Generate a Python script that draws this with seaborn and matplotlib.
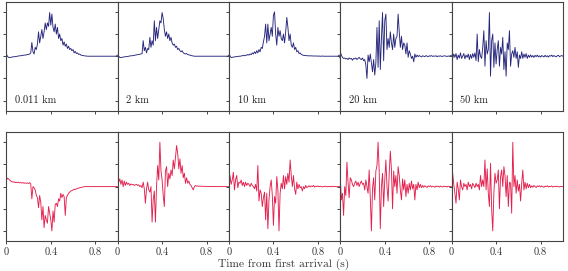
import numpy as np
import matplotlib
matplotlib.use("Agg")
import matplotlib.pyplot as plt
import seaborn as sns

sns.set_theme(style="ticks")
plt.rcParams['font.family'] = ['cmr10', 'DejaVu Serif']
plt.rcParams['axes.formatter.use_mathtext'] = True

# distances shown in the top row
distances = ['0.011 km', '2 km', '10 km', '20 km', '50 km']

# sample times (s), 101 samples
time = np.linspace(0, 1.0, 101)

# top row traces (navy)
top_0011 = [0.12, 0.0, -0.05, -0.06, -0.05, -0.04, -0.03, -0.02, -0.02, -0.01,
            0.0, 0.01, 0.02, 0.02, 0.03, 0.04, 0.05, 0.05, 0.06, 0.08,
            0.08, 0.1, 0.15, 0.62, 0.2, 0.1, 0.4, 0.3, 0.55, 1.1,
            0.6, 0.9, 1.2, 0.8, 1.1, 1.5, 1.2, 1.5, 1.35, 1.97,
            1.4, 1.9, 1.3, 1.1, 1.45, 1.0, 1.3, 0.8, 1.0, 0.7,
            0.8, 0.5, 0.65, 0.45, 0.55, 0.35, 0.45, 0.3, 0.35, 0.25,
            0.3, 0.15, 0.22, 0.12, 0.15, 0.08, 0.1, 0.05, 0.04, 0.03,
            0.02, 0.01, 0.01, 0.0, 0.0, 0.0, 0.0, 0.0, 0.0, 0.0,
            0.0, 0.0, 0.0, 0.0, 0.0, 0.0, 0.0, 0.0, 0.0, 0.0,
            0.0, 0.0, 0.0, 0.0, 0.0, 0.0, 0.0, 0.0, 0.0, 0.01, 0.05]
top_2 = [0.15, 0.0, -0.05, -0.06, -0.05, -0.04, -0.03, -0.02, -0.02, -0.01,
         0.0, 0.01, 0.02, 0.02, 0.03, 0.04, 0.05, 0.06, 0.07, 0.08,
         0.09, 0.1, 0.12, 0.7, 0.25, 0.4, 0.15, 0.35, 0.3, 0.85,
         0.4, 0.7, 0.5, 1.6, 0.7, 1.3, 0.8, 1.2, 1.6, 1.5,
         1.97, 1.7, 1.2, 0.9, 1.1, 0.8, 1.0, 0.7, 0.85, 0.6,
         0.5, 0.55, 0.4, 0.45, 0.3, 0.35, 0.25, 0.2, 0.25, 0.15,
         0.12, 0.1, 0.12, 0.08, 0.06, 0.05, 0.03, 0.02, 0.01, 0.0,
         0.0, 0.0, 0.0, 0.0, 0.0, 0.0, 0.0, 0.0, 0.0, 0.0,
         0.0, 0.0, 0.0, 0.0, 0.0, 0.0, 0.0, 0.0, 0.0, 0.0,
         0.0, 0.0, 0.0, 0.0, 0.0, 0.0, 0.0, 0.0, 0.0, 0.0, 0.05]
top_10 = [0.2, 0.0, -0.06, -0.05, -0.04, -0.03, -0.02, -0.02, -0.01, 0.0,
          0.0, 0.01, 0.02, 0.04, 0.02, 0.05, 0.04, 0.08, 0.05, 0.1,
          0.07, 0.15, 0.1, 0.2, 0.12, 0.25, 0.15, 0.3, 0.2, 0.4,
          0.35, 0.65, 0.9, 1.45, 0.6, 1.45, 0.7, 1.0, 1.3, 0.9,
          1.85, 2.0, 1.0, 0.5, 1.3, 0.9, 1.15, 0.8, 0.7, 1.0,
          0.6, 1.1, 1.75, 1.3, 0.7, 1.0, 0.5, 0.4, 0.6, 0.3,
          0.4, 0.2, 0.25, 0.12, 0.15, 0.08, 0.06, 0.04, 0.03, 0.03,
          0.02, 0.02, 0.02, 0.01, 0.02, 0.01, 0.01, 0.01, 0.01, 0.01,
          0.0, 0.01, 0.0, 0.0, 0.01, 0.0, 0.0, 0.0, 0.0, 0.0,
          0.0, 0.0, 0.0, 0.0, 0.0, 0.0, 0.0, 0.0, 0.0, 0.05, -0.1]
top_20 = [0.2, 0.05, -0.05, -0.1, -0.08, -0.12, -0.1, -0.15, -0.08, -0.12,
          -0.1, -0.18, -0.1, -0.12, -0.08, -0.15, -0.1, -0.05, -0.12, -0.15,
          -0.08, -0.2, -0.15, -0.4, -1.0, 0.05, -0.25, 0.1, -0.3, -0.7,
          -0.15, -0.85, -0.3, 1.3, -0.5, 1.6, -0.6, 0.8, 1.97, -0.2,
          1.6, 1.9, 0.3, 0.8, 0.4, 1.1, 0.6, 0.3, 1.0, 0.4,
          0.8, 0.9, 1.9, 1.1, 0.4, 0.9, 0.3, 0.6, 0.5, 0.1,
          0.6, -0.05, 0.25, 0.1, -0.1, 0.0, -0.25, 0.1, -0.05, 0.05,
          -0.02, 0.03, 0.0, -0.03, 0.02, 0.0, -0.02, 0.03, 0.0, -0.02,
          0.02, 0.0, 0.03, -0.01, 0.01, 0.0, 0.02, -0.02, 0.01, 0.0,
          0.02, -0.01, 0.0, 0.01, 0.02, 0.0, -0.01, 0.01, 0.0, 0.02, 0.05]
top_50 = [0.05, -0.1, 0.1, -0.05, 0.12, -0.15, 0.05, -0.08, 0.15, -0.1,
          0.0, 0.12, -0.12, 0.05, -0.05, 0.1, -0.15, 0.08, -0.1, 0.12,
          -0.05, 0.15, -0.2, 1.0, -0.25, 0.3, 0.0, -0.1, 0.4, 1.15,
          -0.45, 0.7, 0.1, 0.3, 1.97, -0.9, 0.7, 1.0, -0.5, 0.6,
          -0.35, 0.3, 0.7, -0.45, 0.4, 0.1, 0.85, -0.6, 0.2, -0.9,
          0.6, 0.3, 1.15, -0.45, 0.1, 0.25, -0.05, 0.4, -0.1, 0.2,
          -0.5, 0.05, -0.1, 0.2, -0.1, 0.1, -0.05, 0.12, -0.1, 0.05,
          -0.05, 0.06, -0.04, 0.03, -0.05, 0.04, -0.02, 0.05, -0.03, 0.02,
          -0.04, 0.03, 0.0, -0.03, 0.04, -0.02, 0.02, -0.04, 0.03, 0.0,
          0.05, -0.02, 0.03, 0.0, -0.03, 0.02, 0.04, -0.02, 0.01, 0.03, 0.0]

# bottom row traces (red)
bot_0011 = [0.25, 0.38, 0.35, 0.3, 0.25, 0.22, 0.2, 0.22, 0.18, 0.2,
            0.18, 0.2, 0.17, 0.18, 0.16, 0.18, 0.15, 0.17, 0.15, 0.16,
            0.14, 0.18, 0.12, -0.55, 0.0, -0.05, -0.15, -0.4, -0.5, -0.95,
            -0.4, -0.7, -1.5, -0.9, -1.85, -1.3, -1.5, -1.65, -0.9, -1.2,
            -1.5, -2.0, -1.1, -1.6, -0.8, -0.75, -0.9, -0.55, -0.65, -0.3,
            -0.5, -0.35, -0.45, -1.3, -0.5, -0.4, -0.3, -0.25, -0.2, -0.18,
            -0.15, -0.12, -0.13, -0.1, -0.08, -0.07, -0.05, -0.04, -0.03, -0.02,
            0.0, 0.0, 0.0, 0.0, 0.0, 0.0, 0.0, 0.0, 0.0, 0.0,
            0.0, 0.0, 0.0, 0.0, 0.0, 0.0, 0.0, 0.0, 0.0, 0.0,
            0.0, 0.0, 0.0, 0.0, 0.0, 0.0, 0.0, 0.0, 0.0, 0.0, 0.0]
bot_2 = [0.45, 0.2, 0.35, 0.1, 0.3, 0.0, 0.25, 0.05, 0.2, 0.1,
         0.15, 0.05, 0.12, 0.08, 0.1, 0.05, 0.08, 0.1, 0.05, 0.08,
         0.0, 0.05, -0.05, 0.2, -0.1, -0.75, -0.1, 0.2, -0.15, -0.25,
         0.0, -1.6, -0.6, -0.2, -1.6, 0.0, 0.95, 0.3, 2.0, 0.7,
         0.3, -0.4, -0.9, 0.7, 0.9, 0.0, 0.6, 0.35, 0.75, 0.5,
         1.2, 0.8, 1.3, 1.85, 1.5, 0.8, 1.25, 0.6, 0.95, 0.4,
         0.6, 0.15, 0.4, 0.15, 0.25, 0.1, 0.05, -0.05, -0.15, 0.0,
         0.05, 0.02, 0.03, 0.01, 0.02, 0.01, 0.02, 0.01, 0.01, 0.01,
         0.01, 0.0, 0.01, 0.0, 0.01, 0.0, 0.0, 0.01, 0.0, 0.0,
         0.0, 0.01, 0.0, 0.0, 0.0, 0.0, 0.0, 0.0, 0.0, 0.0, 0.0]
bot_10 = [-0.3, 0.5, 0.1, 0.3, 0.65, -0.15, 0.3, 0.5, -0.05, 0.2,
          0.15, 0.3, 0.05, 0.2, 0.0, 0.2, 0.05, 0.15, 0.1, 0.0,
          0.15, 0.05, 0.0, -0.1, 0.1, -0.2, 0.95, -0.65, -0.15, -0.3,
          -0.9, -0.5, -0.25, -1.5, -0.3, -1.9, -0.6, 0.0, 0.3, -0.4,
          -1.75, -0.45, -0.75, 0.45, -0.15, -2.0, -0.3, 0.15, -0.1, 0.5,
          -0.1, 0.45, 0.1, 0.6, 0.2, 1.2, 0.5, 0.0, 0.5, -0.1,
          -0.35, 0.2, -0.1, 0.1, -0.05, 0.0, -0.2, 0.0, -0.1, 0.05,
          -0.05, 0.0, 0.04, -0.02, 0.03, 0.0, 0.05, -0.02, 0.02, 0.0,
          0.03, -0.01, 0.02, 0.0, -0.02, 0.01, 0.0, 0.02, -0.01, 0.0,
          0.01, 0.0, -0.01, 0.02, 0.0, 0.0, 0.01, -0.01, 0.0, 0.0, 0.0]
bot_20 = [0.45, -0.6, -0.3, -1.3, 0.0, -0.4, 1.1, 0.2, -0.5, 0.4,
          0.3, 0.1, 0.0, 0.15, 0.25, 0.05, 0.2, 0.0, 0.15, 0.25,
          0.1, 0.15, -0.15, 0.3, 0.0, -0.3, 0.75, -0.5, -2.0, -0.1,
          0.4, -0.6, 0.7, 0.95, 2.0, 0.7, -1.9, 0.0, 0.6, -0.9,
          0.3, 1.2, 0.0, -0.65, 0.6, 1.6, 0.75, -1.0, 0.7, 0.0,
          0.5, -0.3, 0.9, 0.5, -0.15, -0.6, 0.35, -0.15, 0.3, -0.45,
          0.1, -0.3, 0.15, -0.15, 0.25, -0.1, 0.1, -0.6, 0.1, -0.15,
          0.2, -0.05, 0.1, -0.05, 0.05, -0.03, 0.04, 0.0, -0.04, 0.03,
          0.0, 0.04, -0.02, 0.02, 0.0, -0.03, 0.03, 0.0, 0.02, -0.02,
          0.03, 0.0, -0.02, 0.02, 0.0, 0.01, -0.02, 0.02, 0.0, 0.0, 0.0]
bot_50 = [-0.5, 0.6, 0.1, -0.3, -0.75, 0.2, -0.1, -0.6, 0.3, 0.0,
          -0.15, 0.15, 0.0, 0.1, -0.15, 0.2, 0.0, 0.1, -0.1, 0.15,
          0.05, -0.05, 0.15, 0.0, 0.1, -0.15, 0.5, 0.0, 0.3, 0.0,
          1.2, -0.15, 0.8, -0.3, -0.9, 1.05, -1.0, -2.0, -0.3, 0.6,
          0.15, 0.3, 0.75, -1.0, 0.45, 0.75, 0.0, 0.9, 0.5, -0.45,
          0.5, -0.9, 0.2, 0.15, -1.2, 2.0, 0.0, 0.5, -0.3, 0.3,
          -0.2, 0.1, -0.65, 0.15, 0.75, -0.15, 0.2, -0.1, 0.15, -0.05,
          0.1, -0.05, 0.04, -0.03, 0.05, 0.0, -0.04, 0.03, 0.0, 0.04,
          -0.02, 0.03, 0.0, -0.03, 0.02, 0.0, 0.04, -0.02, 0.01, 0.0,
          0.03, -0.02, 0.0, 0.02, -0.01, 0.02, 0.0, -0.02, 0.01, 0.0, 0.0]

top_traces = [top_0011, top_2, top_10, top_20, top_50]
bot_traces = [bot_0011, bot_2, bot_10, bot_20, bot_50]

navy = '#26267c'
red = '#e3204e'

fig, axes = plt.subplots(2, 5, figsize=(5.68, 2.71), dpi=100, sharex=True, sharey=True)
fig.subplots_adjust(left=0.011, right=0.991, top=0.993, bottom=0.111, wspace=0, hspace=0.2)

for j in range(5):
    ax_t = axes[0, j]
    ax_b = axes[1, j]
    sns.lineplot(x=time, y=top_traces[j], ax=ax_t, color=navy, lw=0.65, estimator=None)
    sns.lineplot(x=time, y=bot_traces[j], ax=ax_b, color=red, lw=0.65, estimator=None)
    ax_t.text(0.08, 0.07, distances[j], transform=ax_t.transAxes, fontsize=7.5, color='#222222')

for ax in axes.flat:
    ax.set_xlim(0, 1.0)
    ax.set_ylim(-2.45, 2.45)
    ax.set_xticks([0, 0.4, 0.8])
    ax.set_xticklabels(['0', '0.4', '0.8'])
    ax.set_yticks([-2, -1, 0, 1, 2])
    ax.tick_params(axis='y', labelleft=False, length=2.5, width=0.7, color='#444444', direction='out')
    ax.tick_params(axis='x', length=2.5, width=0.7, color='#444444', direction='out',
                   labelsize=7.5, pad=2, labelcolor='#333333')
    for sp in ax.spines.values():
        sp.set_visible(True)
        sp.set_color('#444444')
        sp.set_linewidth(0.8)

fig.text(0.5, 0.026, 'Time from first arrival (s)', ha='center', va='center', fontsize=8.3, color='#333333')

plt.savefig('out.png', dpi=100)
